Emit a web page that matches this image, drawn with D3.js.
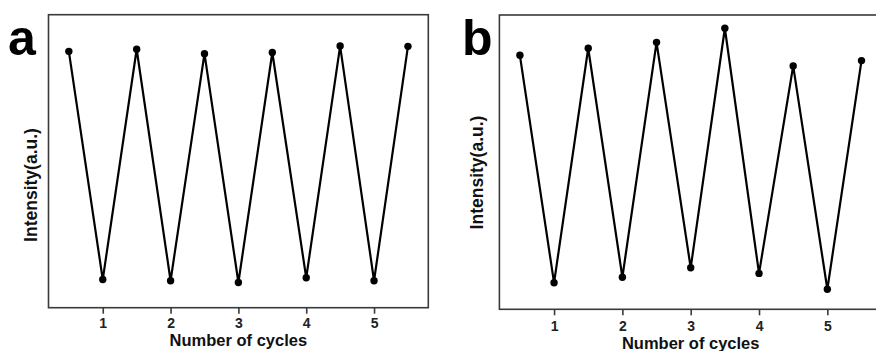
<!DOCTYPE html>
<html>
<head>
<meta charset="utf-8">
<script src="https://cdn.jsdelivr.net/npm/d3@7"></script>
<style>
  html, body { margin: 0; padding: 0; background: #fff; }
  svg { display: block; }
  text { font-family: "Liberation Sans", Arial, sans-serif; font-weight: bold; }
</style>
</head>
<body>
<svg id="chart" width="876" height="351"></svg>
<script>
// ---- data ----
const cycles = [0.5, 1, 1.5, 2, 2.5, 3, 3.5, 4, 4.5, 5, 5.5];
const tickLabels = [1, 2, 3, 4, 5];
const intensityA = [87.5, 9.6, 88.2, 9.2, 86.7, 8.6, 87.1, 10.2, 89.3, 9.2, 89.2];
const intensityB = [86.3, 9.0, 88.7, 10.9, 90.7, 14.1, 95.5, 12.2, 82.7, 6.8, 84.5];
const panelLabels = ["a", "b"];
const xTitle = "Number of cycles";
const yTitle = "Intensity(a.u.)";

const svg = d3.select("#chart");

const panels = [
  { label: panelLabels[0], values: intensityA, left: 48.5, right: 428.3, top: 14.7, bottom: 307.7,
    labelX: 8, yTitleX: 36.5, yTitleY: 185, tickBase: 328.5, xTitleY: 346 },
  { label: panelLabels[1], values: intensityB, left: 499.4, right: 882, top: 15, bottom: 309.3,
    labelX: 462, yTitleX: 482.5, yTitleY: 172.5, tickBase: 331, xTitleY: 348.5 }
];

panels.forEach(p => {
  const g = svg.append("g");
  const x = d3.scaleLinear().domain([0.2, 5.8]).range([p.left, p.right]);
  const y = d3.scaleLinear().domain([0, 100]).range([p.bottom, p.top]);

  // frame
  g.append("rect")
    .attr("x", p.left).attr("y", p.top)
    .attr("width", p.right - p.left).attr("height", p.bottom - p.top)
    .attr("fill", "none").attr("stroke", "#3a3a3a").attr("stroke-width", 1.6);

  // x axis
  const axis = d3.axisBottom(x).tickValues(tickLabels).tickSize(6).tickSizeOuter(0)
    .tickFormat(d3.format("d"));
  const ag = g.append("g").attr("transform", `translate(0,${p.bottom})`).call(axis);
  ag.select(".domain").remove();
  ag.selectAll(".tick line").attr("stroke", "#3a3a3a").attr("stroke-width", 1.6);
  ag.selectAll(".tick text")
    .attr("y", p.tickBase - p.bottom).attr("dy", null)
    .attr("fill", "#222").style("font-size", "14px").style("font-weight", "bold")
    .style("font-family", "'Liberation Sans', Arial, sans-serif");

  // line
  const pts = cycles.map((c, i) => [c, p.values[i]]);
  g.append("path")
    .datum(pts)
    .attr("fill", "none").attr("stroke", "#000").attr("stroke-width", 2.2)
    .attr("stroke-linejoin", "miter")
    .attr("d", d3.line().x(d => x(d[0])).y(d => y(d[1])));

  g.selectAll("circle.pt").data(pts).enter().append("circle")
    .attr("class", "pt")
    .attr("cx", d => x(d[0])).attr("cy", d => y(d[1]))
    .attr("r", 3.7).attr("fill", "#000");

  // titles
  g.append("text")
    .attr("x", (x(1) + x(5)) / 2).attr("y", p.xTitleY)
    .attr("text-anchor", "middle").attr("fill", "#111")
    .style("font-size", "16.5px").text(xTitle);

  g.append("text")
    .attr("transform", `translate(${p.yTitleX},${p.yTitleY}) rotate(-90)`)
    .attr("text-anchor", "middle").attr("fill", "#111")
    .style("font-size", "17.5px").text(yTitle);

  g.append("text")
    .attr("x", p.labelX).attr("y", 55)
    .attr("fill", "#000").style("font-size", "50px").text(p.label);
});
</script>
</body>
</html>
